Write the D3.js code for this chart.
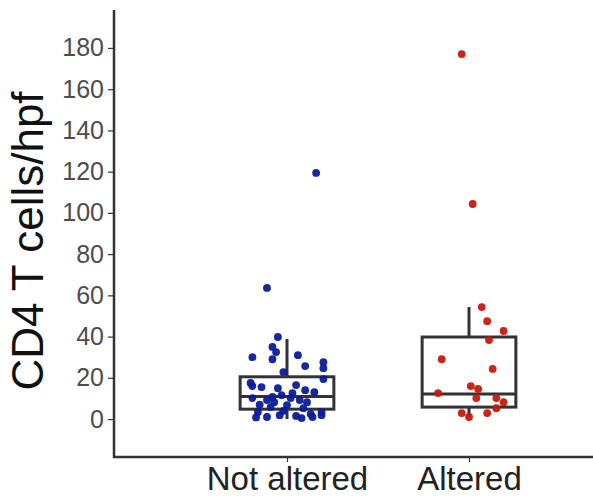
<!DOCTYPE html>
<html>
<head>
<meta charset="utf-8">
<script src="https://cdn.jsdelivr.net/npm/d3@7"></script>
<style>
  body { margin: 0; background: #fff; }
  svg text { font-family: "Liberation Sans", Arial, sans-serif; }
  .axis path, .axis line { fill: none; }
</style>
</head>
<body>
<svg id="chart" width="593" height="497"></svg>
<script>
// categories and y ticks
var categories = ["Not altered", "Altered"];
var yTicks = [0, 20, 40, 60, 80, 100, 120, 140, 160, 180];

// box summaries: [lower whisker, Q1, median, Q3, upper whisker]
var notAlteredBox = [0, 4.8, 11, 20.5, 38.8];
var alteredBox = [1, 5.8, 12.1, 39.8, 54.3];

// individual samples (CD4 T cells/hpf) and their horizontal jitter (fraction of category spacing)
var notAlteredValues = [119.4, 63.6, 39.8, 35, 32.5, 30, 29, 31, 25.7, 27.6, 24.7, 19.4, 22.8,
  16, 15.5, 15, 16.5, 14, 12.6, 11.6, 10.7, 10.2, 9.2, 8.2, 10.2, 9.2, 8.2,
  3.4, 1, 1.9, 1.5, 0.5, 1, 1.9, 3.4, 6.8, 5.8, 5.3, 17.5, 13, 7, 4, 2.5, 0.8];
var notAlteredJitter = [0.16, -0.11, -0.05, -0.08, -0.06, -0.19, -0.08, 0.06, 0.10, 0.20, 0.20, 0.20, -0.02,
  -0.19, -0.14, -0.05, 0.05, 0.10, 0.03, -0.03, -0.08, -0.19, -0.11, -0.07, 0.02, 0.07, 0.11,
  -0.16, -0.11, -0.04, 0.05, 0.08, 0.14, 0.19, 0.19, 0.00, -0.09, 0.09, -0.20, 0.15, -0.15, -0.02, 0.13, -0.17];

var alteredValues = [177, 104.3, 54.3, 47.5, 42.7, 38.3, 29, 24.3, 16, 14.6, 12.6, 10.2, 10.2, 8.2, 5.3, 2.9, 2.9, 1];
var alteredJitter = [-0.04, 0.02, 0.07, 0.10, 0.19, 0.11, -0.15, 0.13, 0.01, 0.05, -0.17, 0.04, 0.15, 0.19, 0.15, -0.04, 0.10, 0.00];

var groups = [
  {name: categories[0], box: notAlteredBox, values: notAlteredValues, jitter: notAlteredJitter, color: "#0a1b9a"},
  {name: categories[1], box: alteredBox, values: alteredValues, jitter: alteredJitter, color: "#c8180c"}
];

var margin = {top: 10, right: 0, bottom: 40, left: 114};
var width = 593, height = 497;
var svg = d3.select("#chart");

var x = d3.scalePoint()
  .domain(categories)
  .range([287, 469]);

var step = x(categories[1]) - x(categories[0]);
var boxWidth = step * 0.515;

var y = d3.scaleLinear()
  .domain([-18.4, 198.4])
  .range([height - margin.bottom, margin.top]);

// y axis
var yAxis = svg.append("g")
  .attr("class", "axis")
  .attr("transform", "translate(" + margin.left + ",0)")
  .call(d3.axisLeft(y).tickValues(yTicks).tickSize(6).tickPadding(4));
yAxis.select(".domain").remove();
yAxis.selectAll(".tick line").attr("stroke", "#333").attr("stroke-width", 1.2);
yAxis.selectAll(".tick text")
  .attr("fill", "#4d4d4d")
  .style("font-size", "25px");

// x axis
var xAxis = svg.append("g")
  .attr("class", "axis")
  .attr("transform", "translate(0," + (height - margin.bottom) + ")")
  .call(d3.axisBottom(x).tickSize(5).tickPadding(6));
xAxis.select(".domain").remove();
xAxis.selectAll(".tick line").attr("stroke", "#333").attr("stroke-width", 1.2);
xAxis.selectAll(".tick text")
  .attr("fill", "#222")
  .attr("dy", 0)
  .attr("y", 33)
  .style("font-size", "33px");

// axis lines
svg.append("line")
  .attr("x1", margin.left).attr("x2", margin.left)
  .attr("y1", margin.top).attr("y2", height - margin.bottom + 1)
  .attr("stroke", "#333").attr("stroke-width", 2.5);
svg.append("line")
  .attr("x1", margin.left - 1).attr("x2", width)
  .attr("y1", height - margin.bottom).attr("y2", height - margin.bottom)
  .attr("stroke", "#333").attr("stroke-width", 2.5);

// y title
svg.append("text")
  .attr("transform", "translate(43," + 241 + ") rotate(-90)")
  .attr("text-anchor", "middle")
  .attr("fill", "#111")
  .style("font-size", "44px")
  .text("CD4 T cells/hpf");

// boxes
var box = svg.append("g").selectAll("g")
  .data(groups)
  .enter().append("g")
  .attr("fill", "none")
  .attr("stroke", "#333")
  .attr("stroke-width", 3);

box.append("line")
  .attr("x1", function (d) { return x(d.name); })
  .attr("x2", function (d) { return x(d.name); })
  .attr("y1", function (d) { return y(d.box[3]); })
  .attr("y2", function (d) { return y(d.box[4]); });

box.append("line")
  .attr("x1", function (d) { return x(d.name); })
  .attr("x2", function (d) { return x(d.name); })
  .attr("y1", function (d) { return y(d.box[0]); })
  .attr("y2", function (d) { return y(d.box[1]); });

box.append("rect")
  .attr("x", function (d) { return x(d.name) - boxWidth / 2; })
  .attr("width", boxWidth)
  .attr("y", function (d) { return y(d.box[3]); })
  .attr("height", function (d) { return y(d.box[1]) - y(d.box[3]); });

box.append("line")
  .attr("x1", function (d) { return x(d.name) - boxWidth / 2; })
  .attr("x2", function (d) { return x(d.name) + boxWidth / 2; })
  .attr("y1", function (d) { return y(d.box[2]); })
  .attr("y2", function (d) { return y(d.box[2]); });

// jittered points
groups.forEach(function (g) {
  svg.append("g").selectAll("circle")
    .data(g.values)
    .enter().append("circle")
    .attr("cx", function (d, i) { return x(g.name) + g.jitter[i] * step; })
    .attr("cy", function (d) { return y(d); })
    .attr("r", 3.9)
    .attr("fill", g.color)
    .attr("fill-opacity", 0.95);
});
</script>
</body>
</html>
